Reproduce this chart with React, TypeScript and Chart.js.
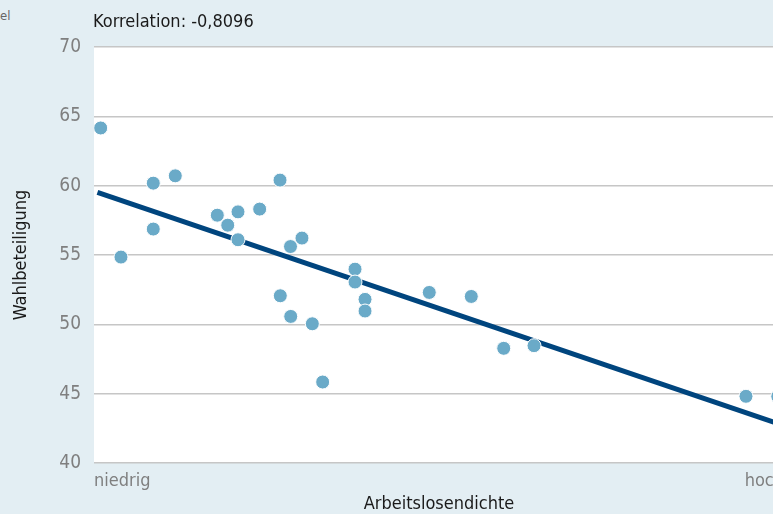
import React, { useEffect, useRef } from "react";
import { Chart, registerables } from "chart.js";

Chart.register(...registerables);

const titleText = "Korrelation: -0,8096";
const xAxisTitle = "Arbeitslosendichte";
const yAxisTitle = "Wahlbeteiligung";
const xTickLabels = ["niedrig", "hoch"];
const xTickValues = [0, 100];
const yTicks = [40, 45, 50, 55, 60, 65, 70];

const pointX = [0.97, 3.91, 8.59, 8.59, 11.78, 17.87, 19.38, 20.87, 20.87, 24.01, 26.96, 28.48, 30.14, 27.0, 28.51, 31.64, 33.14, 37.83, 37.83, 39.28, 39.28, 48.59, 54.68, 59.38, 63.77, 94.49, 99.1];
const pointY = [64.16, 54.85, 60.18, 56.87, 60.71, 57.87, 57.15, 58.11, 56.1, 58.31, 60.4, 55.61, 56.22, 52.06, 50.57, 50.04, 45.84, 53.98, 53.05, 51.8, 50.96, 52.3, 52.01, 48.27, 48.46, 44.81, 44.8];

const trendX = [0.5, 100];
const trendY = [59.52, 42.7];

const FONT = '"Liberation Sans Narrow", "DejaVu Sans Condensed", "Roboto Condensed", Roboto, sans-serif';

export default function App() {
  const ref = useRef<HTMLCanvasElement>(null);
  useEffect(() => {
    if (!ref.current) return;
    const bgPlugin = {
      id: "bgPlugin",
      beforeDraw(chart: any) {
        const { ctx, chartArea } = chart;
        ctx.save();
        ctx.fillStyle = "#ffffff";
        ctx.fillRect(chartArea.left, chartArea.top, chartArea.right - chartArea.left, chartArea.bottom - chartArea.top);
        ctx.restore();
      },
      afterDraw(chart: any) {
        const { ctx, chartArea } = chart;
        ctx.save();
        ctx.font = `18px ${FONT}`;
        ctx.fillStyle = "#1a1a1a";
        ctx.textAlign = "left";
        ctx.textBaseline = "middle";
        ctx.fillText(titleText, chartArea.left - 1, 22);
        ctx.restore();
      },
    };
    const chart = new Chart(ref.current, {
      type: "scatter",
      data: {
        datasets: [
          {
            label: "Punkte",
            data: pointX.map((x, i) => ({ x, y: pointY[i] })),
            backgroundColor: "#6aaac8",
            borderColor: "#ffffff",
            borderWidth: 1,
            pointRadius: 7,
            order: 0,
          },
          {
            type: "line",
            label: "Trend",
            data: trendX.map((x, i) => ({ x, y: trendY[i] })),
            borderColor: "#00457e",
            borderWidth: 5,
            pointRadius: 0,
            showLine: true,
            fill: false,
            order: 1,
          } as any,
        ],
      },
      options: {
        animation: false,
        responsive: false,
        layout: { padding: { top: 47, right: 16, left: 0, bottom: 0 } },
        plugins: { legend: { display: false }, tooltip: { enabled: false }, title: { display: false } },
        scales: {
          x: {
            type: "linear",
            min: 0,
            max: 100,
            grid: { display: false, drawTicks: false },
            border: { display: false },
            afterBuildTicks: (scale: any) => {
              scale.ticks = xTickValues.map((v) => ({ value: v }));
            },
            afterFit: (scale: any) => {
              scale.height = 51;
            },
            ticks: {
              align: "inner",
              padding: 8,
              color: "#7f7f7f",
              font: { family: FONT, size: 18 },
              maxRotation: 0,
              callback: (v: any) => xTickLabels[xTickValues.indexOf(Number(v))] ?? "",
            },
            title: {
              display: true,
              text: xAxisTitle,
              color: "#1a1a1a",
              font: { family: FONT, size: 18, lineHeight: 1.0 },
              padding: { top: 0, bottom: 1 },
            },
          },
          y: {
            min: 40,
            max: 70,
            afterBuildTicks: (scale: any) => {
              scale.ticks = yTicks.map((v) => ({ value: v }));
            },
            afterFit: (scale: any) => {
              scale.width = 94;
            },
            grid: { color: "#c6c6c6", lineWidth: 1.5, drawTicks: false },
            border: { display: false },
            ticks: {
              padding: 13,
              color: "#7f7f7f",
              font: { family: FONT, size: 19 },
            },
            title: {
              display: true,
              text: yAxisTitle,
              color: "#1a1a1a",
              font: { family: FONT, size: 18, lineHeight: 1.2 },
              padding: { top: 11, bottom: 0 },
            },
          },
        },
      },
      plugins: [bgPlugin],
    } as any);
    return () => chart.destroy();
  }, []);
  return (
    <div style={{ position: "fixed", left: 0, top: 0, width: 773, height: 514, overflow: "hidden", background: "#e3eef3" }}>
      <span style={{ position: "absolute", left: 0, top: 8, fontFamily: FONT, fontSize: 13, color: "#666" }}>el</span>
      <canvas ref={ref} width={800} height={514} style={{ position: "absolute", left: 0, top: 0 }} />
    </div>
  );
}
